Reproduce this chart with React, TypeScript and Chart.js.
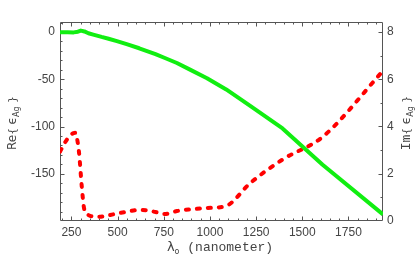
import React, { useEffect, useRef } from "react";
import { Chart, registerables } from "chart.js";

Chart.register(...registerables);

// Wavelength (nm) grid and Re{eps_Ag}
const reWavelengths = [188, 230, 262, 285, 301, 320, 342, 368, 413, 451, 496, 549, 617, 705, 756, 821, 892, 984, 1088, 1216, 1393, 1610, 1937];
const reValues = [-0.3, -0.3, -0.4, 0.3, 1.5, 0.6, -1.3, -2.7, -5.2, -7.1, -9.6, -12.9, -17.2, -23.4, -27.5, -32.8, -39.8, -48.9, -60.8, -77.9, -102, -140.4, -193];

// Wavelength (nm) grid and Im{eps_Ag}
const imWavelengths = [188, 210, 240, 262, 272, 280, 291, 306, 318, 335, 351, 405, 450, 500, 550, 617, 660, 705, 756, 821, 892, 984, 1088, 1216, 1393, 1610, 1937];
const imValues = [2.93, 3.25, 3.6, 3.72, 3.73, 3.5, 2.9, 1.45, 0.55, 0.3, 0.22, 0.18, 0.24, 0.32, 0.39, 0.47, 0.45, 0.38, 0.3, 0.42, 0.49, 0.55, 0.64, 1.59, 2.6, 3.56, 6.35];

const xTickLabels = [250, 500, 750, 1000, 1250, 1500, 1750];
const reTickLabels = [0, -50, -100, -150];
const imTickLabels = [0, 2, 4, 6, 8];

const X_MIN = 188;
const X_MAX = 1937;
const RE_MIN = -200;
const RE_MAX = 10.6;
const IM_MIN = 0;
const IM_MAX = 8.42;

const frameColor = "#555555";
const labelColor = "#444444";

function drawRich(ctx: CanvasRenderingContext2D, parts: { t: string; font: string; dy?: number }[], cx: number, cy: number) {
  let total = 0;
  for (const p of parts) {
    ctx.font = p.font;
    total += ctx.measureText(p.t).width;
  }
  let x = cx - total / 2;
  for (const p of parts) {
    ctx.font = p.font;
    ctx.fillText(p.t, x, cy + (p.dy || 0));
    x += ctx.measureText(p.t).width;
  }
}

const framePlugin = {
  id: "frameTicks",
  beforeDatasetsDraw(chart: any) {
    const { ctx, chartArea: a, scales } = chart;
    const L = Math.round(a.left) + 0.5;
    const R = Math.round(a.right) - 0.5;
    const T = Math.round(a.top) + 0.5;
    const B = Math.round(a.bottom) - 0.5;
    ctx.save();
    ctx.strokeStyle = frameColor;
    ctx.lineWidth = 1;
    ctx.beginPath();
    ctx.rect(L, T, R - L, B - T);
    for (let v = 200; v <= 1900; v += 50) {
      const px = Math.round(scales.x.getPixelForValue(v)) + 0.5;
      const len = v % 250 === 0 ? 4 : 2;
      ctx.moveTo(px, B);
      ctx.lineTo(px, B - len);
      ctx.moveTo(px, T);
      ctx.lineTo(px, T + len);
    }
    for (let v = -190; v <= 10; v += 10) {
      const py = Math.round(scales.y.getPixelForValue(v)) + 0.5;
      const len = v % 50 === 0 ? 4 : 2;
      ctx.moveTo(L, py);
      ctx.lineTo(L + len, py);
    }
    for (let v = 1; v <= 8; v += 1) {
      const py = Math.round(scales.y2.getPixelForValue(v)) + 0.5;
      const len = v % 2 === 0 ? 4 : 2;
      ctx.moveTo(R, py);
      ctx.lineTo(R - len, py);
    }
    ctx.stroke();
    ctx.restore();
  },
  afterDraw(chart: any) {
    const { ctx } = chart;
    ctx.save();
    ctx.fillStyle = labelColor;
    ctx.textBaseline = "alphabetic";
    ctx.save();
    ctx.translate(16, 123);
    ctx.rotate(-Math.PI / 2);
    drawRich(ctx, [
      { t: "Re", font: "12px 'DejaVu Sans'" },
      { t: "{ ", font: "11px 'DejaVu Sans'" },
      { t: "ϵ", font: "12px 'DejaVu Sans'" },
      { t: "Ag", font: "8px 'DejaVu Sans'", dy: 3 },
      { t: " }", font: "11px 'DejaVu Sans'" },
    ], 0, 0);
    ctx.restore();
    ctx.save();
    ctx.translate(410, 123);
    ctx.rotate(-Math.PI / 2);
    drawRich(ctx, [
      { t: "Im", font: "13px 'Liberation Mono'" },
      { t: "{ ", font: "11px 'DejaVu Sans'" },
      { t: "ϵ", font: "12px 'DejaVu Sans'" },
      { t: "Ag", font: "8px 'DejaVu Sans'", dy: 3 },
      { t: " }", font: "11px 'DejaVu Sans'" },
    ], 0, 0);
    ctx.restore();
    drawRich(ctx, [
      { t: "λ", font: "13px 'DejaVu Sans'" },
      { t: "o", font: "8px 'DejaVu Sans'", dy: 3 },
      { t: " (nanometer)", font: "13px 'Liberation Mono'" },
    ], 220, 251);
    ctx.restore();
  },
};

export default function App() {
  const ref = useRef<HTMLCanvasElement | null>(null);
  useEffect(() => {
    if (!ref.current) return;
    const tickFont = { family: "'Liberation Sans'", size: 12 };
    const plain = (v: any) => String(v);
    const chart = new Chart(ref.current, {
      type: "line",
      data: {
        datasets: [
          {
            label: "Re",
            data: reWavelengths.map((x, i) => ({ x, y: reValues[i] })),
            borderColor: "#11ee11",
            borderWidth: 4,
            pointRadius: 0,
            tension: 0,
            yAxisID: "y",
            borderJoinStyle: "round",
          },
          {
            label: "Im",
            data: imWavelengths.map((x, i) => ({ x, y: imValues[i] })),
            borderColor: "#ff0000",
            borderWidth: 4,
            borderDash: [3, 8],
            borderCapStyle: "round",
            pointRadius: 0,
            cubicInterpolationMode: "monotone",
            yAxisID: "y2",
          },
        ],
      },
      options: {
        responsive: false,
        animation: false,
        layout: { padding: { top: 22, left: 0, right: 0, bottom: 0 } },
        plugins: { legend: { display: false }, tooltip: { enabled: false } },
        scales: {
          x: {
            type: "linear",
            min: X_MIN,
            max: X_MAX,
            grid: { display: false, drawTicks: false },
            border: { display: false },
            afterBuildTicks: (s: any) => {
              s.ticks = xTickLabels.map((v) => ({ value: v }));
            },
            afterFit: (s: any) => {
              s.height = 36;
            },
            ticks: { color: labelColor, font: tickFont, padding: 4, maxRotation: 0, autoSkip: false, callback: plain },
          },
          y: {
            type: "linear",
            position: "left",
            min: RE_MIN,
            max: RE_MAX,
            grid: { display: false, drawTicks: false },
            border: { display: false },
            afterBuildTicks: (s: any) => {
              s.ticks = reTickLabels.map((v) => ({ value: v }));
            },
            afterFit: (s: any) => {
              s.width = 60;
            },
            ticks: { color: labelColor, font: tickFont, padding: 5, callback: plain },
          },
          y2: {
            type: "linear",
            position: "right",
            min: IM_MIN,
            max: IM_MAX,
            grid: { display: false, drawTicks: false },
            border: { display: false },
            afterBuildTicks: (s: any) => {
              s.ticks = imTickLabels.map((v) => ({ value: v }));
            },
            afterFit: (s: any) => {
              s.width = 32;
            },
            ticks: { color: labelColor, font: tickFont, padding: 4, callback: plain },
          },
        },
      },
      plugins: [framePlugin],
    } as any);
    return () => chart.destroy();
  }, []);
  return (
    <div style={{ position: "absolute", left: 0, top: 0, width: 415, height: 257 }}>
      <canvas ref={ref} width={415} height={257} />
    </div>
  );
}
